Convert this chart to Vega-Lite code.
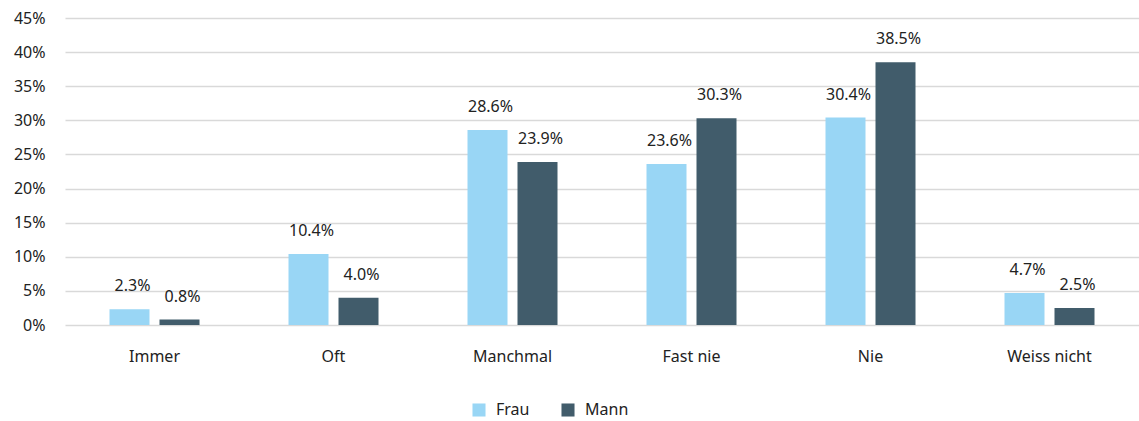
{
  "$schema": "https://vega.github.io/schema/vega-lite/v6.json",
  "width": 1074,
  "height": 307,
  "autosize": {"type": "none"},
  "padding": {"left": 65, "top": 18, "right": 0, "bottom": 96},
  "background": "white",
  "config": {
    "font": "Noto Sans",
    "view": {"stroke": null},
    "axis": {"labelFont": "Noto Sans", "labelFontSize": 16, "labelColor": "#222222"},
    "legend": {"labelFont": "Noto Sans", "labelFontSize": 16, "labelColor": "#222222"}
  },
  "data": {
    "values": [
      {"kategorie": "Immer", "geschlecht": "Frau", "anteil": 0.023},
      {"kategorie": "Immer", "geschlecht": "Mann", "anteil": 0.008},
      {"kategorie": "Oft", "geschlecht": "Frau", "anteil": 0.104},
      {"kategorie": "Oft", "geschlecht": "Mann", "anteil": 0.040},
      {"kategorie": "Manchmal", "geschlecht": "Frau", "anteil": 0.286},
      {"kategorie": "Manchmal", "geschlecht": "Mann", "anteil": 0.239},
      {"kategorie": "Fast nie", "geschlecht": "Frau", "anteil": 0.236},
      {"kategorie": "Fast nie", "geschlecht": "Mann", "anteil": 0.303},
      {"kategorie": "Nie", "geschlecht": "Frau", "anteil": 0.304},
      {"kategorie": "Nie", "geschlecht": "Mann", "anteil": 0.385},
      {"kategorie": "Weiss nicht", "geschlecht": "Frau", "anteil": 0.047},
      {"kategorie": "Weiss nicht", "geschlecht": "Mann", "anteil": 0.025}
    ]
  },
  "encoding": {
    "x": {
      "field": "kategorie",
      "type": "nominal",
      "sort": ["Immer", "Oft", "Manchmal", "Fast nie", "Nie", "Weiss nicht"],
      "scale": {"paddingInner": 0, "paddingOuter": 0},
      "axis": {"title": null, "labelAngle": 0, "domain": false, "ticks": false, "labelPadding": 23}
    },
    "xOffset": {
      "field": "geschlecht",
      "type": "nominal",
      "sort": ["Frau", "Mann"],
      "scale": {"paddingInner": 0.2, "paddingOuter": 0.89}
    },
    "y": {
      "field": "anteil",
      "type": "quantitative",
      "scale": {"domain": [0, 0.45], "nice": false},
      "axis": {
        "title": null,
        "format": ".0%",
        "values": [0, 0.05, 0.1, 0.15, 0.2, 0.25, 0.3, 0.35, 0.4, 0.45],
        "domain": false,
        "ticks": false,
        "labelPadding": 20,
        "gridColor": "#d9d9d9",
        "gridWidth": 1.5
      }
    }
  },
  "layer": [
    {
      "mark": {"type": "bar"},
      "encoding": {
        "color": {
          "field": "geschlecht",
          "type": "nominal",
          "sort": ["Frau", "Mann"],
          "scale": {"domain": ["Frau", "Mann"], "range": ["#99d6f5", "#415c6b"]},
          "legend": {
            "title": null,
            "orient": "none",
            "legendX": 406,
            "legendY": 384,
            "direction": "horizontal",
            "symbolType": "square",
            "symbolSize": 170,
            "symbolStrokeWidth": 0,
            "columnPadding": 30,
            "labelOffset": 9
          }
        }
      }
    },
    {
      "mark": {"type": "text", "baseline": "middle", "dy": -23, "dx": 3, "fontSize": 16, "color": "#222222"},
      "encoding": {
        "text": {"field": "anteil", "type": "quantitative", "format": ".1%"}
      }
    }
  ]
}
